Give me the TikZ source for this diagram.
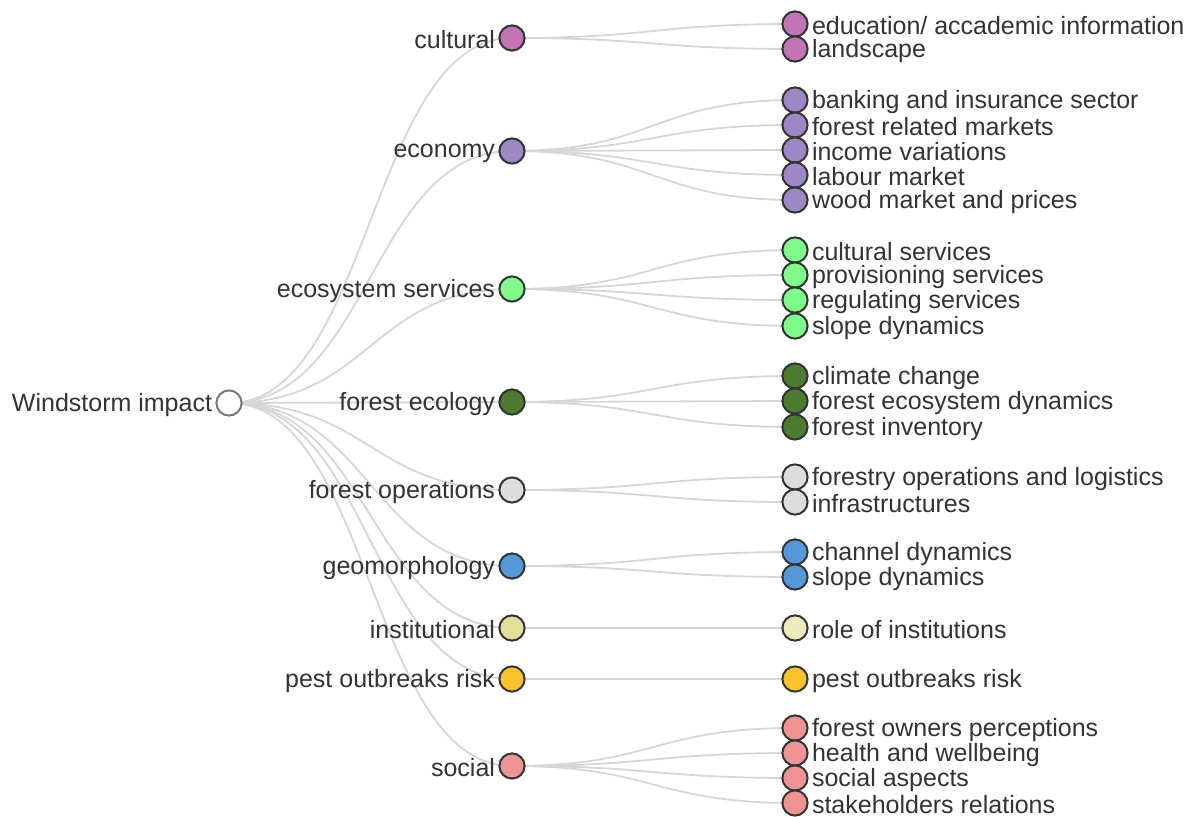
\documentclass[tikz,border=0pt]{standalone}
\usepackage{fontspec}
\setmainfont{Liberation Sans}
\usepackage{tikz}
\usetikzlibrary{calc,backgrounds}

\definecolor{txtgray}{HTML}{333333}
\definecolor{linkgray}{HTML}{D6D6D6}
\definecolor{rootrim}{HTML}{777777}
\definecolor{culcol}{HTML}{C274B4}
\definecolor{ecocol}{HTML}{9D88C5}
\definecolor{esscol}{HTML}{80FA8A}
\definecolor{feccol}{HTML}{4C7A30}
\definecolor{fopcol}{HTML}{DDDDDD}
\definecolor{geocol}{HTML}{559AD8}
\definecolor{inscol}{HTML}{E2E09A}
\definecolor{insleaf}{HTML}{ECEBBE}
\definecolor{pescol}{HTML}{F8C32C}
\definecolor{soccol}{HTML}{EE9494}

\tikzset{
  dot/.style={circle, draw=txtgray, line width=1pt, minimum size=12.6pt, inner sep=0pt},
  lbl/.style={text=txtgray, inner sep=0.5pt, yshift=-1pt, font=\fontsize{12.5}{14}\selectfont},
  link/.style={draw=linkgray, line width=0.9pt,
    to path={let \p1=(\tikztostart), \p2=(\tikztotarget) in
      .. controls ({(\x1+\x2)/2},\y1) and ({(\x1+\x2)/2},\y2) .. (\tikztotarget)}}
}

\begin{document}
\begin{tikzpicture}[x=0.5pt, y=-0.5pt]
\useasboundingbox (0,0) rectangle (1195,817);

% root
\node[dot, draw=rootrim, fill=white, label={[lbl, label distance=1pt]left:Windstorm impact}] (root) at (229,403) {};

% second level
\node[dot, fill=culcol, label={[lbl, label distance=1pt]left:cultural}] (cul) at (512,38) {};
\node[dot, fill=ecocol, label={[lbl, label distance=1pt]left:economy}] (eco) at (512,151) {};
\node[dot, fill=esscol, label={[lbl, label distance=1pt]left:ecosystem services}] (ess) at (512,289) {};
\node[dot, fill=feccol, label={[lbl, label distance=1pt]left:forest ecology}] (fec) at (512,402) {};
\node[dot, fill=fopcol, label={[lbl, label distance=1pt]left:forest operations}] (fop) at (512,490) {};
\node[dot, fill=geocol, label={[lbl, label distance=1pt]left:geomorphology}] (geo) at (512,566) {};
\node[dot, fill=inscol, label={[lbl, label distance=1pt]left:institutional}] (ins) at (512,628) {};
\node[dot, fill=pescol, label={[lbl, label distance=1pt]left:pest outbreaks risk}] (pes) at (512,679) {};
\node[dot, fill=soccol, label={[lbl, label distance=1pt]left:social}] (soc) at (512,766) {};

% leaves
\node[dot, fill=culcol, label={[lbl, label distance=1pt]right:education/ accademic information}] (cul1) at (795,24) {};
\node[dot, fill=culcol, label={[lbl, label distance=1pt]right:landscape}] (cul2) at (795,49) {};

\node[dot, fill=ecocol, label={[lbl, label distance=1pt]right:banking and insurance sector}] (eco1) at (795,100) {};
\node[dot, fill=ecocol, label={[lbl, label distance=1pt]right:forest related markets}] (eco2) at (795,125) {};
\node[dot, fill=ecocol, label={[lbl, label distance=1pt]right:income variations}] (eco3) at (795,150) {};
\node[dot, fill=ecocol, label={[lbl, label distance=1pt]right:labour market}] (eco4) at (795,175) {};
\node[dot, fill=ecocol, label={[lbl, label distance=1pt]right:wood market and prices}] (eco5) at (795,200) {};

\node[dot, fill=esscol, label={[lbl, label distance=1pt]right:cultural services}] (ess1) at (795,250) {};
\node[dot, fill=esscol, label={[lbl, label distance=1pt]right:provisioning services}] (ess2) at (795,275) {};
\node[dot, fill=esscol, label={[lbl, label distance=1pt]right:regulating services}] (ess3) at (795,300) {};
\node[dot, fill=esscol, label={[lbl, label distance=1pt]right:slope dynamics}] (ess4) at (795,326) {};

\node[dot, fill=feccol, label={[lbl, label distance=1pt]right:climate change}] (fec1) at (795,376) {};
\node[dot, fill=feccol, label={[lbl, label distance=1pt]right:forest ecosystem dynamics}] (fec2) at (795,401) {};
\node[dot, fill=feccol, label={[lbl, label distance=1pt]right:forest inventory}] (fec3) at (795,427) {};

\node[dot, fill=fopcol, label={[lbl, label distance=1pt]right:forestry operations and logistics}] (fop1) at (795,477) {};
\node[dot, fill=fopcol, label={[lbl, label distance=1pt]right:infrastructures}] (fop2) at (795,502) {};

\node[dot, fill=geocol, label={[lbl, label distance=1pt]right:channel dynamics}] (geo1) at (795,552) {};
\node[dot, fill=geocol, label={[lbl, label distance=1pt]right:slope dynamics}] (geo2) at (795,577) {};

\node[dot, fill=insleaf, label={[lbl, label distance=1pt]right:role of institutions}] (ins1) at (795,628) {};

\node[dot, fill=pescol, label={[lbl, label distance=1pt]right:pest outbreaks risk}] (pes1) at (795,679) {};

\node[dot, fill=soccol, label={[lbl, label distance=1pt]right:forest owners perceptions}] (soc1) at (795,728) {};
\node[dot, fill=soccol, label={[lbl, label distance=1pt]right:health and wellbeing}] (soc2) at (795,753) {};
\node[dot, fill=soccol, label={[lbl, label distance=1pt]right:social aspects}] (soc3) at (795,778) {};
\node[dot, fill=soccol, label={[lbl, label distance=1pt]right:stakeholders relations}] (soc4) at (795,803) {};

% links
\begin{scope}[on background layer]
\draw[link] (root.center) to (cul.center);
\draw[link] (root.center) to (eco.center);
\draw[link] (root.center) to (ess.center);
\draw[link] (root.center) to (fec.center);
\draw[link] (root.center) to (fop.center);
\draw[link] (root.center) to (geo.center);
\draw[link] (root.center) to (ins.center);
\draw[link] (root.center) to (pes.center);
\draw[link] (root.center) to (soc.center);

\draw[link] (cul.center) to (cul1.center);
\draw[link] (cul.center) to (cul2.center);
\draw[link] (eco.center) to (eco1.center);
\draw[link] (eco.center) to (eco2.center);
\draw[link] (eco.center) to (eco3.center);
\draw[link] (eco.center) to (eco4.center);
\draw[link] (eco.center) to (eco5.center);
\draw[link] (ess.center) to (ess1.center);
\draw[link] (ess.center) to (ess2.center);
\draw[link] (ess.center) to (ess3.center);
\draw[link] (ess.center) to (ess4.center);
\draw[link] (fec.center) to (fec1.center);
\draw[link] (fec.center) to (fec2.center);
\draw[link] (fec.center) to (fec3.center);
\draw[link] (fop.center) to (fop1.center);
\draw[link] (fop.center) to (fop2.center);
\draw[link] (geo.center) to (geo1.center);
\draw[link] (geo.center) to (geo2.center);
\draw[link] (ins.center) to (ins1.center);
\draw[link] (pes.center) to (pes1.center);
\draw[link] (soc.center) to (soc1.center);
\draw[link] (soc.center) to (soc2.center);
\draw[link] (soc.center) to (soc3.center);
\draw[link] (soc.center) to (soc4.center);
\end{scope}

\end{tikzpicture}
\end{document}
